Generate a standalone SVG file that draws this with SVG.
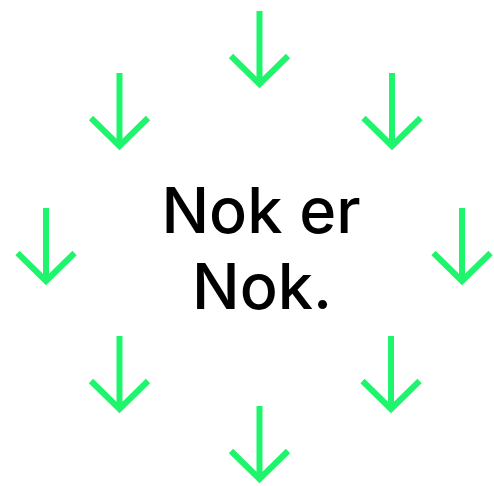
<svg xmlns="http://www.w3.org/2000/svg" width="494" height="486" viewBox="0 0 494 486">
<defs>
<style>
.arr{fill:none;stroke:#1ff56c;stroke-width:6;stroke-linejoin:miter;stroke-linecap:butt}
.t{font-family:Inter,"Liberation Sans",sans-serif;font-weight:500;font-size:63px;fill:#000;text-anchor:middle}
</style>
<path id="a" class="arr" d="M0,0 V73 M-28.5,45 L0,73 L28.5,45"/>
</defs>
<rect width="494" height="486" fill="#fff"/>
<g id="arrows">
<use href="#a" x="259.5" y="11"/>
<use href="#a" x="119.5" y="73"/>
<use href="#a" x="392" y="73"/>
<use href="#a" x="46" y="208"/>
<use href="#a" x="462" y="208"/>
<use href="#a" x="119.5" y="336"/>
<use href="#a" x="391" y="336"/>
<use href="#a" x="259.5" y="406"/>
</g>
<g id="label">
<text class="t" x="261" y="233">Nok er</text>
<text class="t" x="262" y="309">Nok.</text>
</g>
</svg>
